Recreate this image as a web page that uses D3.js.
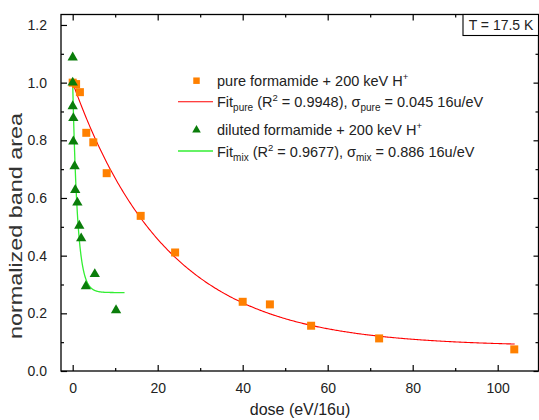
<!DOCTYPE html>
<html>
<head>
<meta charset="utf-8">
<script src="https://cdn.jsdelivr.net/npm/d3@7"></script>
<style>
  html, body { margin: 0; padding: 0; background: #fff; }
  svg { display: block; font-family: Arial, "Liberation Sans", sans-serif; }
</style>
</head>
<body>
<svg id="chart" width="539" height="420"></svg>
<script>
// Pure formamide irradiated with 200 keV H+
const pureDose  = [0, 0.8, 1.7, 3.2, 4.85, 8.0, 16.0, 24.1, 40.0, 46.4, 56.1, 72.1, 103.9];
const pureArea  = [1.0, 0.995, 0.967, 0.826, 0.793, 0.686, 0.538, 0.411, 0.240, 0.231, 0.157, 0.113, 0.075];

// Diluted formamide (mixture) irradiated with 200 keV H+
const mixDose   = [0, 0, 0, 0.15, 0.15, 0.45, 0.6, 1.1, 1.55, 2.0, 3.1, 5.2, 10.2];
const mixArea   = [1.087, 1.0, 0.918, 0.877, 0.796, 0.71, 0.628, 0.584, 0.504, 0.46, 0.294, 0.336, 0.211];

// Exponential fit parameters: A(D) = yInf + (1 - yInf) * exp(-sigma * D)
const fitPure = { sigma: 0.045, yInf: 0.085, dMax: 104 };
const fitMix  = { sigma: 0.886, yInf: 0.272, dMax: 12.2 };

// Axis ticks
const xMajor = [0, 20, 40, 60, 80, 100];
const xMinor = [10, 30, 50, 70, 90];
const yMajor = [0, 0.2, 0.4, 0.6, 0.8, 1.0, 1.2];
const yMinor = [0.1, 0.3, 0.5, 0.7, 0.9, 1.1];

const svg = d3.select("#chart");
const L = 61, R = 538.5, T = 14.5, B = 371;

const x = d3.scaleLinear().domain([-2.75, 109.6]).range([L, R]);
const y = d3.scaleLinear().domain([0, 1.2363]).range([B, T]);

const axisStyle = g => g.call(s => s.select(".domain").remove())
  .selectAll("line").attr("stroke", "#000").attr("stroke-width", 1.2);
const labelStyle = g => g.selectAll("text").attr("font-size", 14).attr("fill", "#222")
  .attr("font-family", "Arial, 'Liberation Sans', sans-serif");

// Bottom axis with labels (ticks point inward)
svg.append("g").attr("transform", `translate(0,${B})`)
  .call(d3.axisBottom(x).tickValues(xMajor).tickSizeInner(-6).tickSizeOuter(0).tickPadding(12).tickFormat(d3.format("d")))
  .call(axisStyle).call(labelStyle);
svg.append("g").attr("transform", `translate(0,${B})`)
  .call(d3.axisBottom(x).tickValues(xMinor).tickSizeInner(-3).tickSizeOuter(0).tickFormat(""))
  .call(axisStyle);
// Top axis
svg.append("g").attr("transform", `translate(0,${T})`)
  .call(d3.axisTop(x).tickValues(xMajor).tickSizeInner(-6).tickSizeOuter(0).tickFormat(""))
  .call(axisStyle);
svg.append("g").attr("transform", `translate(0,${T})`)
  .call(d3.axisTop(x).tickValues(xMinor).tickSizeInner(-3).tickSizeOuter(0).tickFormat(""))
  .call(axisStyle);

// Left axis with labels
svg.append("g").attr("transform", `translate(${L},0)`)
  .call(d3.axisLeft(y).tickValues(yMajor).tickSizeInner(-6).tickSizeOuter(0).tickPadding(14).tickFormat(d3.format(".1f")))
  .call(axisStyle).call(labelStyle);
svg.append("g").attr("transform", `translate(${L},0)`)
  .call(d3.axisLeft(y).tickValues(yMinor).tickSizeInner(-3).tickSizeOuter(0).tickFormat(""))
  .call(axisStyle);
// Right axis
svg.append("g").attr("transform", `translate(${R},0)`)
  .call(d3.axisRight(y).tickValues(yMajor).tickSizeInner(-5).tickSizeOuter(0).tickFormat(""))
  .call(axisStyle);
svg.append("g").attr("transform", `translate(${R},0)`)
  .call(d3.axisRight(y).tickValues(yMinor).tickSizeInner(-3).tickSizeOuter(0).tickFormat(""))
  .call(axisStyle);

// Plot frame
svg.append("rect").attr("x", L).attr("y", T).attr("width", R - L).attr("height", B - T)
  .attr("fill", "none").attr("stroke", "#000").attr("stroke-width", 1.3);

// Axis titles
svg.append("text").attr("x", 300).attr("y", 415).attr("text-anchor", "middle")
  .attr("font-size", 16).attr("fill", "#222").text("dose (eV/16u)");
svg.append("text").attr("transform", "translate(22,226) rotate(-90)")
  .attr("text-anchor", "middle").attr("font-size", 18).attr("fill", "#333")
  .attr("textLength", 226).attr("lengthAdjust", "spacingAndGlyphs")
  .text("normalized band area");

// Fit curves
function fitPoints(f) {
  return d3.range(0, 401).map(i => {
    const d = f.dMax * i / 400;
    return [d, f.yInf + (1 - f.yInf) * Math.exp(-f.sigma * d)];
  });
}
const line = d3.line().x(d => x(d[0])).y(d => y(d[1]));
svg.append("path").attr("d", line(fitPoints(fitPure)))
  .attr("fill", "none").attr("stroke", "#ff0000").attr("stroke-width", 1.1);
svg.append("path").attr("d", line(fitPoints(fitMix)))
  .attr("fill", "none").attr("stroke", "#33ee33").attr("stroke-width", 1.3);

// Data markers
const squareSym = d3.symbol().type(d3.symbolSquare).size(64);
const triSym = d3.symbol().type(d3.symbolTriangle).size(46);

svg.append("g").selectAll("path").data(pureDose.map((d, i) => [d, pureArea[i]]))
  .join("path").attr("d", squareSym)
  .attr("transform", d => `translate(${x(d[0])},${y(d[1])})`)
  .attr("fill", "#ff8000");
svg.append("g").selectAll("path").data(mixDose.map((d, i) => [d, mixArea[i]]))
  .join("path").attr("d", triSym)
  .attr("transform", d => `translate(${x(d[0])},${y(d[1])})`)
  .attr("fill", "#0a7d0a");

// Legend
const lg = svg.append("g").attr("font-size", 14.5).attr("fill", "#222");
lg.append("path").attr("d", d3.symbol().type(d3.symbolSquare).size(42))
  .attr("transform", "translate(196.5,80.7)").attr("fill", "#ff8000");
lg.append("line").attr("x1", 178).attr("x2", 213).attr("y1", 101.7).attr("y2", 101.7)
  .attr("stroke", "#ff0000").attr("stroke-width", 1.1);
lg.append("path").attr("d", d3.symbol().type(d3.symbolTriangle).size(32))
  .attr("transform", "translate(196.5,130)").attr("fill", "#0a7d0a");
lg.append("line").attr("x1", 178).attr("x2", 213).attr("y1", 151).attr("y2", 151)
  .attr("stroke", "#33ee33").attr("stroke-width", 1.3);

// Text with sub/superscripts; a tspan after a shifted one restores the baseline with an opposite dy
function richText(yPos, parts) {
  const t = lg.append("text").attr("x", 217).attr("y", yPos);
  parts.forEach(p => {
    const s = t.append("tspan").text(p.t);
    if (p.sub) s.attr("font-size", 10).attr("dy", 4);
    if (p.sup) s.attr("font-size", 9.5).attr("dy", -6);
    if (p.back) s.attr("dy", p.back);
  });
  return t;
}
richText(85.5, [{t: "pure formamide + 200 keV H"}, {t: "+", sup: true}]);
richText(106.5, [{t: "Fit"}, {t: "pure", sub: true}, {t: " (R", back: -4}, {t: "2", sup: true},
  {t: " = 0.9948), σ", back: 6}, {t: "pure", sub: true}, {t: " = 0.045 16u/eV", back: -4}]);
richText(135, [{t: "diluted formamide + 200 keV H"}, {t: "+", sup: true}]);
richText(156.5, [{t: "Fit"}, {t: "mix", sub: true}, {t: " (R", back: -4}, {t: "2", sup: true},
  {t: " = 0.9677), σ", back: 6}, {t: "mix", sub: true}, {t: " = 0.886 16u/eV", back: -4}]);

// Temperature box
svg.append("rect").attr("x", 463).attr("y", T).attr("width", R - 463).attr("height", 21)
  .attr("fill", "#fff").attr("stroke", "#000").attr("stroke-width", 1.1);
svg.append("text").attr("x", 501).attr("y", 30).attr("text-anchor", "middle")
  .attr("font-size", 14).attr("fill", "#222").text("T = 17.5 K");
</script>
</body>
</html>
